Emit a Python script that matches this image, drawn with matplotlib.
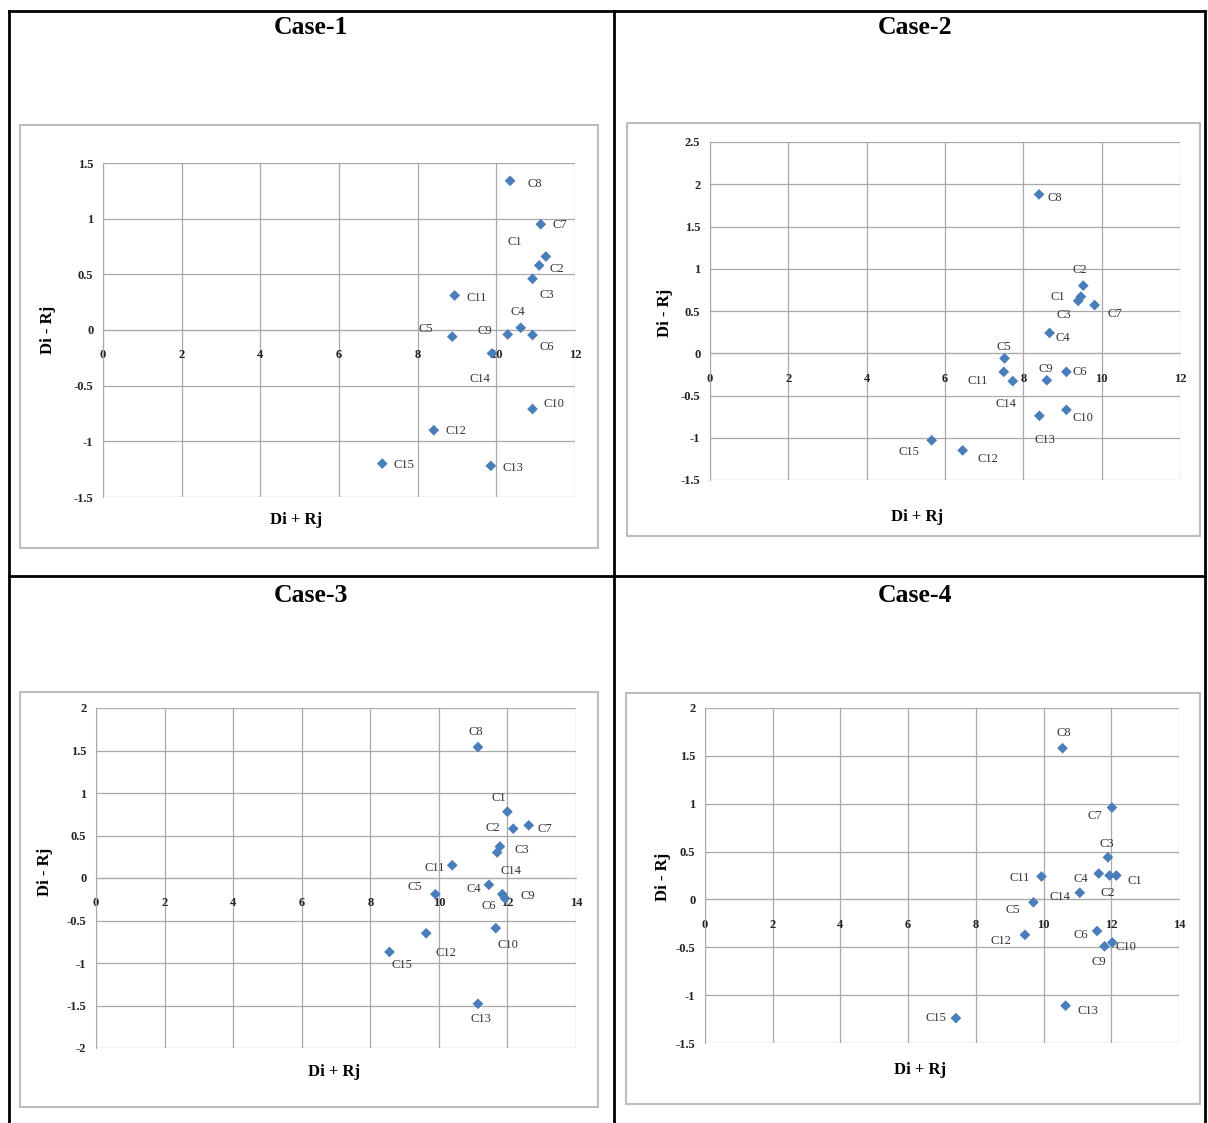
import matplotlib
matplotlib.use("Agg")
import matplotlib.pyplot as plt
from matplotlib.patches import Rectangle
from matplotlib.lines import Line2D

plt.rcParams['font.family'] = ['Liberation Serif', 'DejaVu Serif']

W, H = 1208, 1123

labels = ["C1", "C2", "C3", "C4", "C5", "C6", "C7", "C8", "C9", "C10",
          "C11", "C12", "C13", "C14", "C15"]

case_titles = ["Case-1", "Case-2", "Case-3", "Case-4"]

case1_x = [11.09, 11.26, 10.92, 10.62, 8.88, 10.92, 11.13, 10.35, 10.29, 10.92, 8.94, 8.41, 9.86, 9.89, 7.10]
case1_y = [0.58, 0.66, 0.46, 0.02, -0.06, -0.045, 0.95, 1.34, -0.04, -0.71, 0.31, -0.90, -1.22, -0.21, -1.20]

case2_x = [9.47, 9.53, 9.40, 8.67, 7.52, 9.10, 9.82, 8.40, 8.60, 9.10, 7.50, 6.45, 8.41, 7.73, 5.66]
case2_y = [0.67, 0.80, 0.62, 0.24, -0.06, -0.22, 0.57, 1.88, -0.32, -0.67, -0.22, -1.15, -0.74, -0.33, -1.03]

case3_x = [12.00, 12.17, 11.78, 11.46, 9.90, 11.93, 12.62, 11.14, 11.85, 11.66, 10.39, 9.63, 11.14, 11.70, 8.56]
case3_y = [0.78, 0.58, 0.37, -0.08, -0.19, -0.24, 0.62, 1.54, -0.19, -0.59, 0.15, -0.65, -1.48, 0.30, -0.87]

case4_x = [12.15, 11.95, 11.90, 11.63, 9.70, 11.58, 12.02, 10.56, 11.80, 12.03, 9.94, 9.45, 10.65, 11.07, 7.41]
case4_y = [0.25, 0.25, 0.44, 0.27, -0.03, -0.33, 0.96, 1.58, -0.49, -0.45, 0.24, -0.37, -1.11, 0.07, -1.24]

# axis ranges
case1_xlim, case1_ylim = (0, 12), (-1.5, 1.5)
case2_xlim, case2_ylim = (0, 12), (-1.5, 2.5)
case3_xlim, case3_ylim = (0, 14), (-2.0, 2.0)
case4_xlim, case4_ylim = (0, 14), (-1.5, 2.0)

# ---------------- layout / style (pixels) ----------------
plot_boxes = [(103, 575, 163, 497), (710, 1180, 142, 480),
              (96, 576, 708, 1048), (705, 1179, 708, 1043)]
chart_boxes = [(20, 598, 125, 548), (627, 1200, 123, 536),
               (20, 598, 692, 1107), (626, 1200, 693, 1104)]
title_pos = [(311, 28), (915, 28), (311, 595), (915, 595)]
xlabel_pos = [(296, 520), (917, 517), (334, 1072), (920, 1070)]
ylabel_pos = [(48, 330), (665, 313), (45, 872), (663, 877)]

offsets = [
    [(-24, 23), (11, -12), (14, -16), (-3, 16), (-26, 8), (14, -12), (19, -1), (25, -3),
     (-23, 3), (21, 5), (22, -3), (22, -1), (22, -2), (-12, -26), (22, -1)],
    [(-23, 0), (-3, 16), (-14, -14), (13, -5), (-1, 11), (13, 0), (20, -9), (16, -4),
     (-1, 11), (17, -8), (-26, -9), (25, -9), (6, -24), (-7, -23), (-23, -12)],
    [(-9, 14), (-20, 1), (22, -3), (-15, -4), (-21, 7), (-16, -8), (16, -4), (-2, 15),
     (26, -2), (12, -17), (-18, -3), (20, -20), (3, -15), (14, -18), (12, -13)],
    [(18, -5), (-2, -17), (-1, 13), (-18, -5), (-21, -8), (-16, -4), (-17, -8), (1, 15),
     (-6, -16), (14, -5), (-22, -2), (-24, -6), (22, -5), (-20, -4), (-20, 0)],
]

cases = [
    (case1_x, case1_y, case1_xlim, case1_ylim),
    (case2_x, case2_y, case2_xlim, case2_ylim),
    (case3_x, case3_y, case3_xlim, case3_ylim),
    (case4_x, case4_y, case4_xlim, case4_ylim),
]

marker_color = "#4A7EBB"
grid_color = "#A8A8A8"

fig = plt.figure(figsize=(W / 100, H / 100), dpi=100)


def fx(x):
    return x / W


def fy(y):
    return 1 - y / H


# table lines
tbl = dict(color="black", lw=2.0, transform=fig.transFigure)
fig.add_artist(Line2D([fx(9), fx(1205)], [fy(11), fy(11)], **tbl))
fig.add_artist(Line2D([fx(9), fx(1205)], [fy(576), fy(576)], **tbl))
fig.add_artist(Line2D([fx(9), fx(9)], [fy(11), fy(1123)], **tbl))
fig.add_artist(Line2D([fx(614), fx(614)], [fy(11), fy(1123)], **tbl))
fig.add_artist(Line2D([fx(1205), fx(1205)], [fy(11), fy(1123)], **tbl))

for i, (xs, ys, xlim, ylim) in enumerate(cases):
    l, r, t, b = chart_boxes[i]
    fig.add_artist(Rectangle((fx(l), fy(b)), (r - l) / W, (b - t) / H,
                             transform=fig.transFigure, fill=False,
                             edgecolor="#BDBDBD", lw=1.5))
    l, r, t, b = plot_boxes[i]
    ax = fig.add_axes([fx(l), fy(b), (r - l) / W, (b - t) / H])
    ax.set_xlim(*xlim)
    ax.set_ylim(*ylim)
    xt = list(range(xlim[0], xlim[1] + 1, 2))
    yt = []
    v = ylim[0]
    while v <= ylim[1] + 1e-9:
        yt.append(round(v, 2))
        v += 0.5
    ax.set_xticks(xt)
    ax.set_xticklabels([f"{t_:g}" for t_ in xt])
    ax.set_yticks(yt)
    ax.set_yticklabels([f"{t_:g}" for t_ in yt])
    ax.grid(True, color=grid_color, lw=0.9)
    ax.set_axisbelow(True)
    for s in ["top", "right"]:
        ax.spines[s].set_visible(False)
    ax.spines["bottom"].set_position(("data", 0))
    ax.spines["bottom"].set_color(grid_color)
    ax.spines["left"].set_color(grid_color)
    ax.tick_params(axis="both", length=0, labelsize=9, colors="#222222")
    ax.tick_params(axis="x", pad=14)
    ax.tick_params(axis="y", pad=7)
    for lab in ax.get_xticklabels() + ax.get_yticklabels():
        lab.set_fontweight("bold")
    ax.patch.set_alpha(0)

    ax.scatter(xs, ys, marker="D", s=30, color=marker_color, zorder=3,
               edgecolors="none", clip_on=False)
    for j, name in enumerate(labels):
        dx, dy = offsets[i][j]
        ax.annotate(name, (xs[j], ys[j]), xytext=(dx, dy),
                    textcoords="offset pixels", ha="center", va="center",
                    fontsize=9, color="#333333", zorder=4)

    tx, ty = title_pos[i]
    fig.text(fx(tx), fy(ty), case_titles[i], ha="center", va="center",
             fontsize=18.5, fontweight="bold")
    tx, ty = xlabel_pos[i]
    fig.text(fx(tx), fy(ty), "Di + Rj", ha="center", va="center",
             fontsize=12, fontweight="bold")
    tx, ty = ylabel_pos[i]
    fig.text(fx(tx), fy(ty), "Di - Rj", ha="center", va="center",
             fontsize=12, fontweight="bold", rotation=90)

fig.savefig("out.png", dpi=100)
